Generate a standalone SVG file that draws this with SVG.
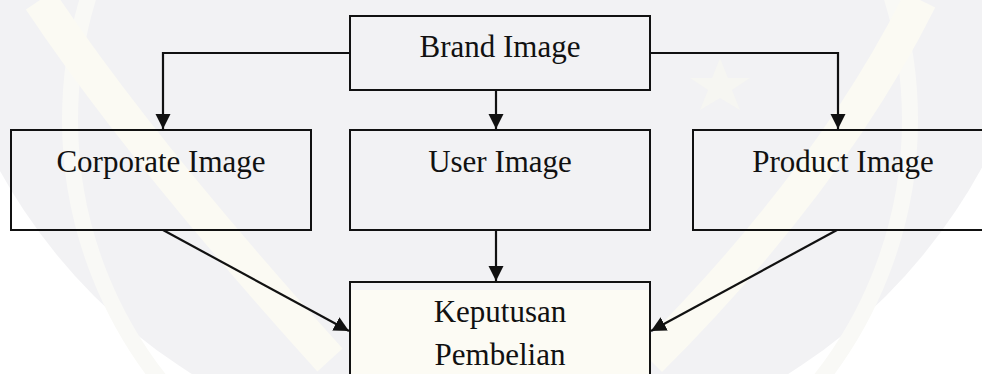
<svg xmlns="http://www.w3.org/2000/svg" width="982" height="374" viewBox="0 0 982 374">
  <style>
    .box { fill: none; stroke: #111; stroke-width: 2; }
    .label { font-family: "Liberation Serif", "Times New Roman", serif; font-size: 31px; fill: #111; text-anchor: middle; }
    .wire { fill: none; stroke: #111; stroke-width: 2.2; }
  </style>
  <defs>
    <marker id="arrow" markerUnits="userSpaceOnUse" markerWidth="16" markerHeight="16" viewBox="0 0 16 16" refX="15" refY="8" orient="auto">
      <path d="M0,0.5 L15,8 L0,15.5 Z" fill="#111"/>
    </marker>
  </defs>

  <!-- faint seal in the background -->
  <g id="background">
    <rect x="0" y="0" width="982" height="374" fill="#ffffff"/>
    <circle cx="490" cy="-100" r="560" fill="#f2f2f4"/>
    <circle cx="490" cy="120" r="420" fill="none" stroke="#f9f9f6" stroke-width="16"/>
    <path d="M40,0 Q140,150 330,360" fill="none" stroke="#fbfaf3" stroke-width="34"/>
    <path d="M920,0 Q830,180 650,360" fill="none" stroke="#fbfaf3" stroke-width="34"/>
    <path d="M350,290 L650,290 L650,374 L350,374 Z" fill="#fcfbf4"/>
    <polygon points="720,58 728,78 750,78 732,90 740,110 720,98 700,110 708,90 690,78 712,78" fill="#f6f6f2"/>
  </g>

  <g id="connectors">
    <path class="wire" d="M350,53 H163 V129" marker-end="url(#arrow)"/>
    <path class="wire" d="M650,53 H838 V129" marker-end="url(#arrow)"/>
    <path class="wire" d="M496,90 V129" marker-end="url(#arrow)"/>
    <path class="wire" d="M496,230 V281" marker-end="url(#arrow)"/>
    <path class="wire" d="M163,230 L349,331" marker-end="url(#arrow)"/>
    <path class="wire" d="M837,230 L651,331" marker-end="url(#arrow)"/>
  </g>

  <g id="brand-image">
    <rect class="box" x="350" y="16" width="300" height="74"/>
    <text class="label" x="500" y="57">Brand Image</text>
  </g>

  <g id="corporate-image">
    <rect class="box" x="11" y="130" width="300" height="100"/>
    <text class="label" x="161" y="172">Corporate Image</text>
  </g>

  <g id="user-image">
    <rect class="box" x="350" y="130" width="300" height="100"/>
    <text class="label" x="500" y="172">User Image</text>
  </g>

  <g id="product-image">
    <rect class="box" x="693" y="130" width="300" height="100"/>
    <text class="label" x="843" y="172">Product Image</text>
  </g>

  <g id="keputusan-pembelian">
    <rect class="box" x="350" y="282" width="300" height="110"/>
    <text class="label" x="500" y="322">Keputusan</text>
    <text class="label" x="500" y="365">Pembelian</text>
  </g>
</svg>
